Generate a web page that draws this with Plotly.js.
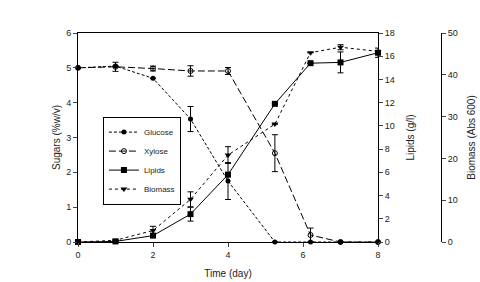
<!DOCTYPE html>
<html>
<head>
<meta charset="utf-8">
<script src="https://cdn.plot.ly/plotly-3.0.1.min.js"></script>
<style>html,body{margin:0;padding:0;background:#fff;}#chart{width:480px;height:282px;}</style>
</head>
<body>
<div id="chart"></div>
<script>
var days = [0, 1, 2, 3, 4, 5.25, 6.2, 7, 8];
var glucose = [5, 5.05, 4.7, 3.53, 1.75, 0, 0, 0, 0];
var glucoseErr = [0, 0, 0, 0.36, 0.53, 0, 0, 0, 0];
var xylose = [5, 5.03, 4.98, 4.91, 4.91, 2.55, 0.2, 0, 0];
var xyloseErr = [0, 0.13, 0.07, 0.15, 0.1, 0.53, 0.2, 0, 0];
var lipids = [0, 0.05, 0.55, 2.4, 5.8, 11.9, 15.4, 15.47, 16.3];
var lipidsErr = [0, 0, 0, 0.6, 0, 0, 0, 0.9, 0.4];
var biomass = [0, 0.4, 2.75, 10.2, 20.8, 28.2, 45.3, 46.6, 45.6];
var biomassErr = [0, 0, 1.0, 1.8, 2.0, 0, 0, 0.6, 0];

var xTicks = [0, 2, 4, 6, 8];
var sugarTicks = [0, 1, 2, 3, 4, 5, 6];
var lipidTicks = [0, 2, 4, 6, 8, 10, 12, 14, 16, 18];
var biomassTicks = [0, 10, 20, 30, 40, 50];

function eb(arr) {
  return {type: 'data', array: arr, visible: true, color: '#000', thickness: 1, width: 3};
}

var traces = [
  {name: 'Glucose', x: days, y: glucose, error_y: eb(glucoseErr), yaxis: 'y', mode: 'lines+markers',
   line: {color: '#000', width: 1, dash: '3px,2px'}, marker: {symbol: 'circle', size: 5, color: '#000'}, cliponaxis: false},
  {name: 'Xylose', x: days, y: xylose, error_y: eb(xyloseErr), yaxis: 'y', mode: 'lines+markers',
   line: {color: '#000', width: 1, dash: '7px,3px'}, marker: {symbol: 'circle-open', size: 5, color: '#000', line: {width: 1}}, cliponaxis: false},
  {name: 'Lipids', x: days, y: lipids, error_y: eb(lipidsErr), yaxis: 'y2', mode: 'lines+markers',
   line: {color: '#000', width: 1}, marker: {symbol: 'square', size: 6, color: '#000'}, cliponaxis: false},
  {name: 'Biomass', x: days, y: biomass, error_y: eb(biomassErr), yaxis: 'y3', mode: 'lines+markers',
   line: {color: '#000', width: 1, dash: 'dot'}, marker: {symbol: 'triangle-down', size: 6, color: '#000'}, cliponaxis: false}
];

var tf = {family: 'Liberation Sans, Arial, sans-serif', size: 9, color: '#222'};
var titleF = {family: 'Liberation Sans, Arial, sans-serif', size: 10, color: '#222'};

var layout = {
  width: 480, height: 282,
  margin: {l: 78, r: 30, t: 33, b: 40},
  paper_bgcolor: '#fff', plot_bgcolor: '#fff',
  showlegend: true,
  legend: {x: 0.067, y: 0.6, xanchor: 'left', yanchor: 'top', bordercolor: '#000', borderwidth: 1,
           font: {family: 'Liberation Sans, Arial, sans-serif', size: 8, color: '#222'}, bgcolor: '#fff', itemwidth: 30},
  xaxis: {domain: [0, 0.8065], range: [0, 8], tickvals: xTicks, ticks: 'outside', ticklen: 4, tickwidth: 1,
          showline: true, linecolor: '#000', linewidth: 1, mirror: true, showgrid: false, zeroline: false,
          tickfont: tf, title: {text: 'Time (day)', font: titleF, standoff: 11}},
  yaxis: {range: [0, 6], tickvals: sugarTicks, ticks: 'outside', ticklen: 4, showline: true, linecolor: '#000',
          linewidth: 1, showgrid: false, zeroline: false, tickfont: tf,
          title: {text: 'Sugars (%w/v)', font: titleF, standoff: 3}},
  yaxis2: {range: [0, 18], tickvals: lipidTicks, overlaying: 'y', side: 'right', anchor: 'x', ticks: 'outside',
           ticklen: 4, showline: true, linecolor: '#000', linewidth: 1, showgrid: false, zeroline: false,
           tickfont: tf, title: {text: 'Lipids (g/l)', font: titleF, standoff: 13}},
  yaxis3: {range: [0, 50], tickvals: biomassTicks, overlaying: 'y', side: 'right', anchor: 'free', position: 0.976,
           ticks: 'outside', ticklen: 4, showline: true, linecolor: '#000', linewidth: 1, showgrid: false,
           zeroline: false, tickfont: tf, title: {text: 'Biomass (Abs 600)', font: titleF, standoff: 11}}
};

Plotly.newPlot('chart', traces, layout, {displayModeBar: false, staticPlot: true});
</script>
</body>
</html>
